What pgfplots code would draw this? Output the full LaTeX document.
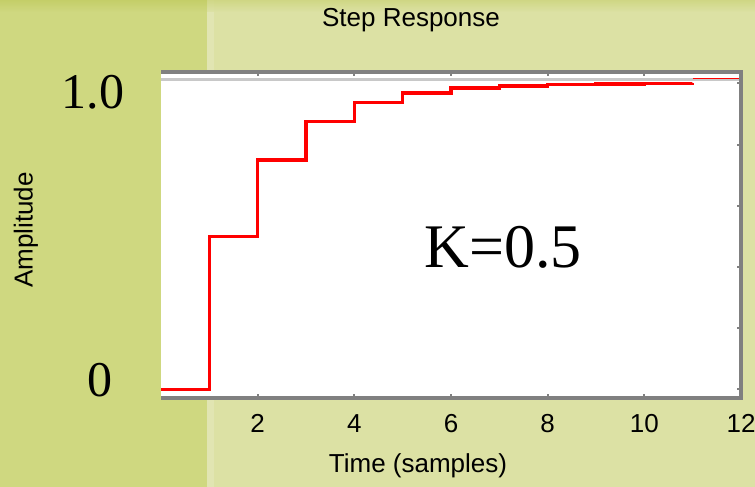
\documentclass[border=0pt]{standalone}
\usepackage{fontspec}
\setmainfont{Liberation Serif}
\setsansfont{Liberation Sans}
\usepackage{pgfplots}
\pgfplotsset{compat=1.18}
\definecolor{bgL}{HTML}{CFD880}
\definecolor{bgR}{HTML}{DCE1A4}
\definecolor{bgTop}{HTML}{C2CC62}
\definecolor{axgray}{HTML}{808080}
\definecolor{bandgray}{HTML}{C8C8C8}

\begin{document}
\begin{tikzpicture}[x=1pt,y=1pt]
\useasboundingbox (0,0) rectangle (755,487);
\fill[bgL] (0,0) rectangle (207,487);
\fill[bgR] (207,0) rectangle (755,487);
\fill[bgR!85!white] (207,0) rectangle (214,487);
\shade[top color=bgTop, bottom color=bgL, opacity=0.8] (0,475) rectangle (207,487);
\shade[top color=bgTop!60!bgR, bottom color=bgR, opacity=0.8] (207,475) rectangle (755,487);

\begin{axis}[
  at={(161pt,89pt)}, anchor=south west,
  scale only axis, width=580pt, height=326pt,
  xmin=0, xmax=12, ymin=-0.028, ymax=1.037,
  axis background/.style={fill=white},
  axis line style={draw=none},
  clip=false,
  xtick={2,4,6,8,10,12}, xtick pos=both,
  ytick={0,0.2,0.4,0.6,0.8,1}, ytick pos=right, yticklabels={},
  tick align=inside, major tick length=4pt,
  tick style={axgray, line width=2pt},
  /pgf/number format/assume math mode=true,
  xticklabel style={font=\fontsize{26}{30}\sffamily, anchor=base, yshift=-35pt},
]
\addplot[bandgray, line width=3pt] coordinates {(0,1.011) (12,1.011)};
\addplot[red, line width=1pt] coordinates {(11,1.016) (12,1.016)};
\addplot[red, line width=3.5pt, const plot mark left] coordinates {
  (0,0) (1,0.5) (2,0.75) (3,0.875) (4,0.9375) (5,0.96875) (6,0.984)
  (7,0.992) (8,0.996) (9,0.998) (10,0.999) (11,1.0)};
\draw[axgray, line width=4pt] (rel axis cs:0,0) -- (rel axis cs:1,0)
  -- (rel axis cs:1,1) -- (rel axis cs:0,1);
\end{axis}

\node[font=\fontsize{26}{30}\sffamily, anchor=base] at (411,460) {Step Response};
\node[font=\fontsize{26}{30}\sffamily, anchor=base] at (418,14) {Time (samples)};
\node[font=\fontsize{26}{30}\sffamily, rotate=90] at (26,257) {Amplitude};
\node[font=\fontsize{50}{56}\selectfont, anchor=base] at (93,378) {1.0};
\node[font=\fontsize{50}{56}\selectfont, anchor=base] at (100,90) {0};
\node[font=\fontsize{62}{70}\selectfont, anchor=base] at (503,219) {K=0.5};
\end{tikzpicture}
\end{document}
